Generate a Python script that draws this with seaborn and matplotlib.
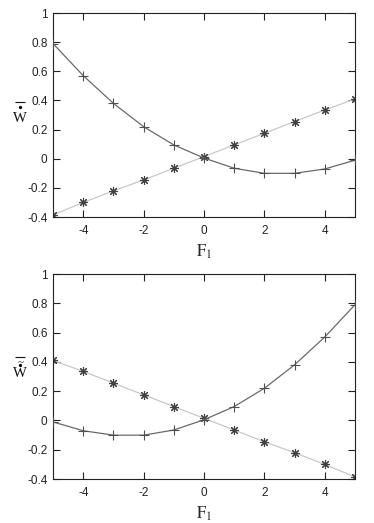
import numpy as np
import pandas as pd
import matplotlib
matplotlib.use("Agg")
import matplotlib.pyplot as plt
import matplotlib.transforms as mtransforms
import seaborn as sns

# values
F1 = [-5, -4, -3, -2, -1, 0, 1, 2, 3, 4, 5]
curve_top = [0.79, 0.57, 0.38, 0.22, 0.095, 0.005, -0.065, -0.10, -0.10, -0.07, -0.01]
line_top = [-0.385, -0.30, -0.22, -0.145, -0.065, 0.015, 0.095, 0.175, 0.255, 0.335, 0.41]
curve_bot = curve_top[::-1]
line_bot = line_top[::-1]

XTICKS = [-4, -2, 0, 2, 4]
YTICKS = [-0.4, -0.2, 0, 0.2, 0.4, 0.6, 0.8, 1]
YTICKLABELS = ["-0.4", "-0.2", "0", "0.2", "0.4", "0.6", "0.8", "1"]

sns.set_theme(style="ticks")
plt.rcParams.update({
    "font.family": ["Liberation Sans", "DejaVu Sans"],
    "mathtext.fontset": "stix",
    "axes.edgecolor": "#222222",
    "axes.linewidth": 0.8,
    "xtick.direction": "in",
    "ytick.direction": "in",
    "xtick.major.size": 5,
    "ytick.major.size": 5,
    "xtick.major.width": 0.8,
    "ytick.major.width": 0.8,
    "xtick.color": "#222222",
    "ytick.color": "#222222",
    "xtick.labelsize": 8.5,
    "ytick.labelsize": 8.5,
    "xtick.top": True,
    "ytick.right": True,
})

CURVE_COLOR = "#6a6a6a"
LINE_COLOR = "#c8c8c8"
STAR = (8, 2, 0)
SERIF = ["Liberation Serif", "DejaVu Serif"]
INK = "#111111"

fig = plt.figure(figsize=(3.74, 5.23), dpi=100)
ax_top = fig.add_axes([0.142, 0.585, 0.807, 0.39])
ax_bot = fig.add_axes([0.142, 0.084, 0.807, 0.392])


def ylabel_w(ax, ypos, tilde):
    # W with dot (and tilde) and overbar stacked above, drawn piece by piece
    x0 = -0.109

    def off(dy):
        return mtransforms.offset_copy(ax.transAxes, fig=fig, x=0, y=dy, units="dots")

    ax.text(x0, ypos, "W", transform=off(-5), ha="center", va="baseline",
            fontsize=10.5, family=SERIF, color=INK)
    dot_dy = 7.5 if tilde else 10
    ax.plot([x0], [ypos], transform=off(dot_dy), marker="o", markersize=1.4,
            color=INK, clip_on=False)
    if tilde:
        ax.text(x0, ypos, "~", transform=off(7), ha="center", va="baseline",
                fontsize=8, family=SERIF, color=INK)
    ax.plot([x0], [ypos], transform=off(15.5), marker="_", markersize=7,
            markeredgewidth=0.8, color=INK, clip_on=False)


def draw_panel(ax, curve, line):
    df = pd.DataFrame({"F1": F1, "curve": curve, "line": line})
    sns.lineplot(data=df, x="F1", y="line", ax=ax, color=LINE_COLOR, lw=0.9,
                 marker=STAR, markersize=6.5, markeredgecolor="#404040",
                 markeredgewidth=0.8, markerfacecolor="none", zorder=2)
    sns.lineplot(data=df, x="F1", y="curve", ax=ax, color=CURVE_COLOR, lw=0.9,
                 marker="+", markersize=7, markeredgecolor="#505050",
                 markeredgewidth=0.8, zorder=3)
    ax.set_xlim(-5, 5)
    ax.set_ylim(-0.4, 1)
    ax.set_xticks(XTICKS)
    ax.set_xticklabels([str(t) for t in XTICKS])
    ax.set_yticks(YTICKS)
    ax.set_yticklabels(YTICKLABELS)
    ax.tick_params(axis="y", pad=4)
    ax.tick_params(axis="x", pad=6)
    ax.set_xlabel(r"$\mathrm{F}_1$", fontsize=12, labelpad=4)
    ax.set_ylabel("")
    for side in ax.spines.values():
        side.set_visible(True)


draw_panel(ax_top, curve_top, line_top)
ylabel_w(ax_top, 0.49, tilde=False)
draw_panel(ax_bot, curve_bot, line_bot)
ylabel_w(ax_bot, 0.522, tilde=True)

fig.savefig("out.png", dpi=100)
